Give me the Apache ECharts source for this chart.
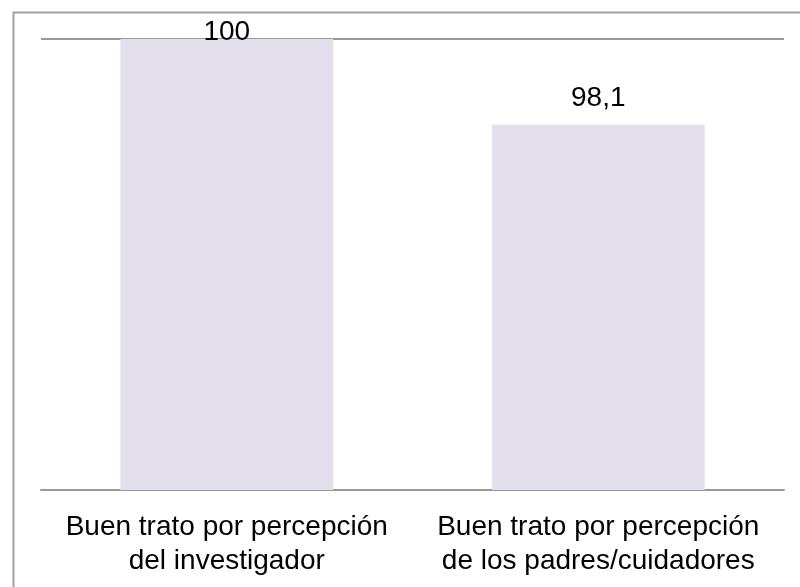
<!DOCTYPE html>
<html>
<head>
<meta charset="utf-8">
<style>
html,body{margin:0;padding:0;background:#fff;}
#chart{width:800px;height:587px;}
</style>
<script src="https://cdn.jsdelivr.net/npm/echarts@6/dist/echarts.min.js"></script>
</head>
<body>
<div id="chart"></div>
<script>
const categories = [
  "Buen trato por percepción\ndel investigador",
  "Buen trato por percepción\nde los padres/cuidadores"
];
const values = [100, 98.1];
const yTicks = [90, 100];

const FONT = 'Arial, "Liberation Sans", sans-serif';
const chart = echarts.init(document.getElementById('chart'), null, {renderer: 'canvas'});

const seriesData = values.map(function (v, i) {
  const item = {value: v};
  if (i === 0) {
    item.label = {distance: -7};
  }
  return item;
});

chart.setOption({
  animation: false,
  backgroundColor: '#ffffff',
  graphic: [{
    type: 'rect',
    left: 11, top: 10,
    shape: {width: 800, height: 600},
    style: {fill: 'none', stroke: '#a0a0a0', lineWidth: 2},
    silent: true
  }],
  grid: {left: 41, right: 16, top: 39, bottom: 97, containLabel: false},
  xAxis: {
    type: 'category',
    data: categories,
    axisLine: {show: true, lineStyle: {color: '#999999', width: 2}},
    axisTick: {show: false},
    axisLabel: {
      color: '#000000', fontFamily: FONT, fontSize: 28,
      lineHeight: 34, margin: 20, interval: 0
    }
  },
  yAxis: {
    type: 'value',
    min: yTicks[0], max: yTicks[yTicks.length - 1], interval: yTicks[1] - yTicks[0],
    axisLine: {show: false},
    axisTick: {show: false},
    axisLabel: {show: false},
    splitLine: {show: true, lineStyle: {color: '#999999', width: 2}}
  },
  series: [{
    type: 'bar',
    data: seriesData,
    barWidth: '57.3%',
    itemStyle: {color: '#E4DFEC'},
    label: {
      show: true, position: 'top', distance: 12,
      color: '#000000', fontFamily: FONT, fontSize: 28,
      formatter: function (p) { return String(p.value).replace('.', ','); }
    }
  }]
});
</script>
</body>
</html>
